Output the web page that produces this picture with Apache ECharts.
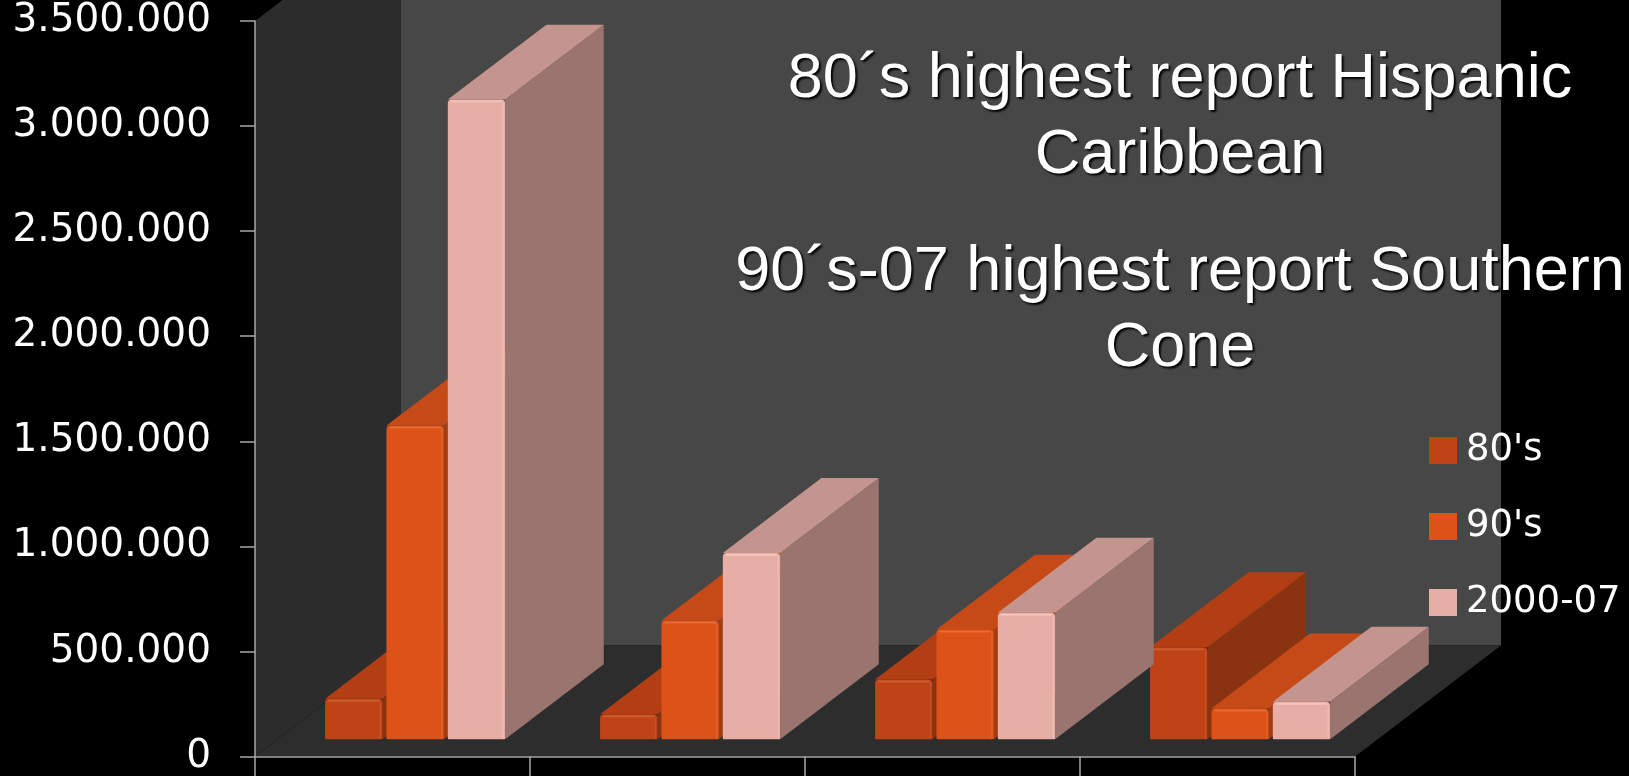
<!DOCTYPE html>
<html><head><meta charset="utf-8">
<script src="https://cdn.jsdelivr.net/npm/echarts@6/dist/echarts.min.js"></script>
<style>html,body{margin:0;padding:0;background:#000;overflow:hidden}#c{width:1629px;height:776px}</style>
</head><body><div id="c"></div>
<script>
// ---- data ----
const categories = ['Region 1', 'Region 2', 'Region 3', 'Region 4'];
const seriesNames = ["80's", "90's", "2000-07"];
const values80s = [193000, 119000, 285000, 438000];
const values90s = [1493000, 565000, 522000, 147000];
const values2000s = [3044000, 887000, 602000, 179000];
const yMin = 0, yMax = 3500000, yInterval = 500000;
const annotation1 = "80\u00B4s highest report Hispanic\nCaribbean";
const annotation2 = "90\u00B4s-07 highest report Southern\nCone";

// ---- styling ----
const faceColors = [
  {front: '#bf4316', top: '#b33e14', side: '#8a3310', hi: '#cf5a2a'},
  {front: '#dc5219', top: '#c64a18', side: '#a23c12', hi: '#ea6a32'},
  {front: '#e7aea6', top: '#c3958e', side: '#9a746e', hi: '#f4c2ba'}
];
const DX = 146, DY = 111;   // depth offset of the 3D box (px)
const F0 = 0.155, FD = 0.675; // bar front depth fraction, bar depth fraction
const GROUP = 0.655, GAP = 4;

function fmt(v) { return String(v).replace(/\B(?=(\d{3})+(?!\d))/g, '.'); }

function renderWalls(params, api) {
  const cs = params.coordSys;
  const x0 = cs.x, y0 = cs.y, x1 = cs.x + cs.width, y1 = cs.y + cs.height;
  return {type: 'group', silent: true, children: [
    {type: 'polygon', shape: {points: [[x0 + DX, y0 - DY - 200], [x1 + DX, y0 - DY - 200], [x1 + DX, y1 - DY], [x0 + DX, y1 - DY]]}, style: {fill: '#474747'}},
    {type: 'polygon', shape: {points: [[x0, y1], [x0, y0], [x0 + DX, y0 - DY], [x0 + DX, y1 - DY]]}, style: {fill: '#2c2c2c'}},
    {type: 'polygon', shape: {points: [[x0, y1], [x1, y1], [x1 + DX, y1 - DY], [x0 + DX, y1 - DY]]}, style: {fill: '#2d2d2d'}}
  ]};
}

function makeBarRenderer(si) {
  return function (params, api) {
    const cat = api.value(0), val = api.value(1);
    const base = api.coord([cat, 0]);
    const top = api.coord([cat, val]);
    const cw = api.size([1, 0])[0];
    const gw = cw * GROUP;
    const bw = (gw - 2 * GAP) / 3;
    const x0 = base[0] - gw / 2 + si * (bw + GAP) + F0 * DX;
    const yb = base[1] - F0 * DY;
    const yt = top[1] - F0 * DY;
    const ddx = FD * DX, ddy = FD * DY;
    const c = faceColors[si];
    return {type: 'group', children: [
      {type: 'polygon', shape: {points: [[x0 + bw, yt], [x0 + bw, yb], [x0 + bw + ddx, yb - ddy], [x0 + bw + ddx, yt - ddy]]}, style: {fill: c.side}},
      {type: 'polygon', shape: {points: [[x0, yt], [x0 + bw, yt], [x0 + bw + ddx, yt - ddy], [x0 + ddx, yt - ddy]]}, style: {fill: c.top}},
      {type: 'rect', shape: {x: x0, y: yt, width: bw, height: yb - yt, r: [4, 4, 1, 1]}, style: {fill: c.front}},
      {type: 'polyline', shape: {points: [[x0 + 3, yt + 2], [x0 + bw - 3, yt + 2]]}, style: {stroke: c.hi, lineWidth: 2, fill: null}},
      {type: 'polyline', shape: {points: [[x0 + bw - 2, yt + 3], [x0 + bw - 2, yb - 1]]}, style: {stroke: c.hi, lineWidth: 1.5, fill: null, opacity: 0.6}}
    ]};
  };
}

const seriesData = [values80s, values90s, values2000s];
const series = [{
  type: 'custom', name: 'walls', renderItem: renderWalls, data: [[0, 0]], z: 0, silent: true, clip: false, legendHoverLink: false
}];
seriesData.forEach(function (vals, i) {
  series.push({
    type: 'custom', name: seriesNames[i], z: 2, clip: false,
    renderItem: makeBarRenderer(i),
    itemStyle: {color: faceColors[i].front},
    encode: {x: 0, y: 1},
    data: vals.map(function (v, k) { return [k, v]; })
  });
});

const chart = echarts.init(document.getElementById('c'), null, {renderer: 'canvas'});
chart.setOption({
  backgroundColor: '#000',
  animation: false,
  grid: {left: 255, right: 274, top: 21, bottom: 18, containLabel: false},
  xAxis: {
    type: 'category', data: categories, z: 5,
    axisLine: {show: true, lineStyle: {color: '#a8a8a8', width: 1.5}},
    axisTick: {show: true, length: 22, alignWithLabel: false, lineStyle: {color: '#a8a8a8', width: 1.5}},
    axisLabel: {show: false},
    splitLine: {show: false}
  },
  yAxis: {
    type: 'value', min: yMin, max: yMax, interval: yInterval, z: 5,
    axisLine: {show: true, lineStyle: {color: '#a8a8a8', width: 1.5}},
    axisTick: {show: true, length: 15, lineStyle: {color: '#a8a8a8', width: 1.5}},
    axisLabel: {color: '#ffffff', fontFamily: 'DejaVu Sans', fontSize: 39, margin: 44, padding: [8, 0, 0, 0], formatter: fmt},
    splitLine: {show: false}
  },
  legend: {
    data: seriesNames, orient: 'vertical', left: 1424, top: 427,
    icon: 'rect', itemWidth: 28, itemHeight: 27, itemGap: 39,
    textStyle: {color: '#ffffff', fontFamily: 'DejaVu Sans', fontSize: 37, lineHeight: 27, padding: [0, 0, 0, 4]},
    selectedMode: false
  },
  graphic: [
    {type: 'text', x: 1180, y: 118, z: 100, silent: true, style: {
      text: annotation1, fill: '#ffffff', font: '63px "Liberation Sans", Arial, sans-serif',
      align: 'center', verticalAlign: 'middle', textAlign: 'center', textVerticalAlign: 'middle', lineHeight: 76,
      textShadowColor: 'rgba(0,0,0,0.95)', textShadowBlur: 2, textShadowOffsetX: 2, textShadowOffsetY: 2}},
    {type: 'text', x: 1180, y: 311, z: 100, silent: true, style: {
      text: annotation2, fill: '#ffffff', font: '63px "Liberation Sans", Arial, sans-serif',
      align: 'center', verticalAlign: 'middle', textAlign: 'center', textVerticalAlign: 'middle', lineHeight: 76,
      textShadowColor: 'rgba(0,0,0,0.95)', textShadowBlur: 2, textShadowOffsetX: 2, textShadowOffsetY: 2}}
  ],
  series: series
});
</script></body></html>
